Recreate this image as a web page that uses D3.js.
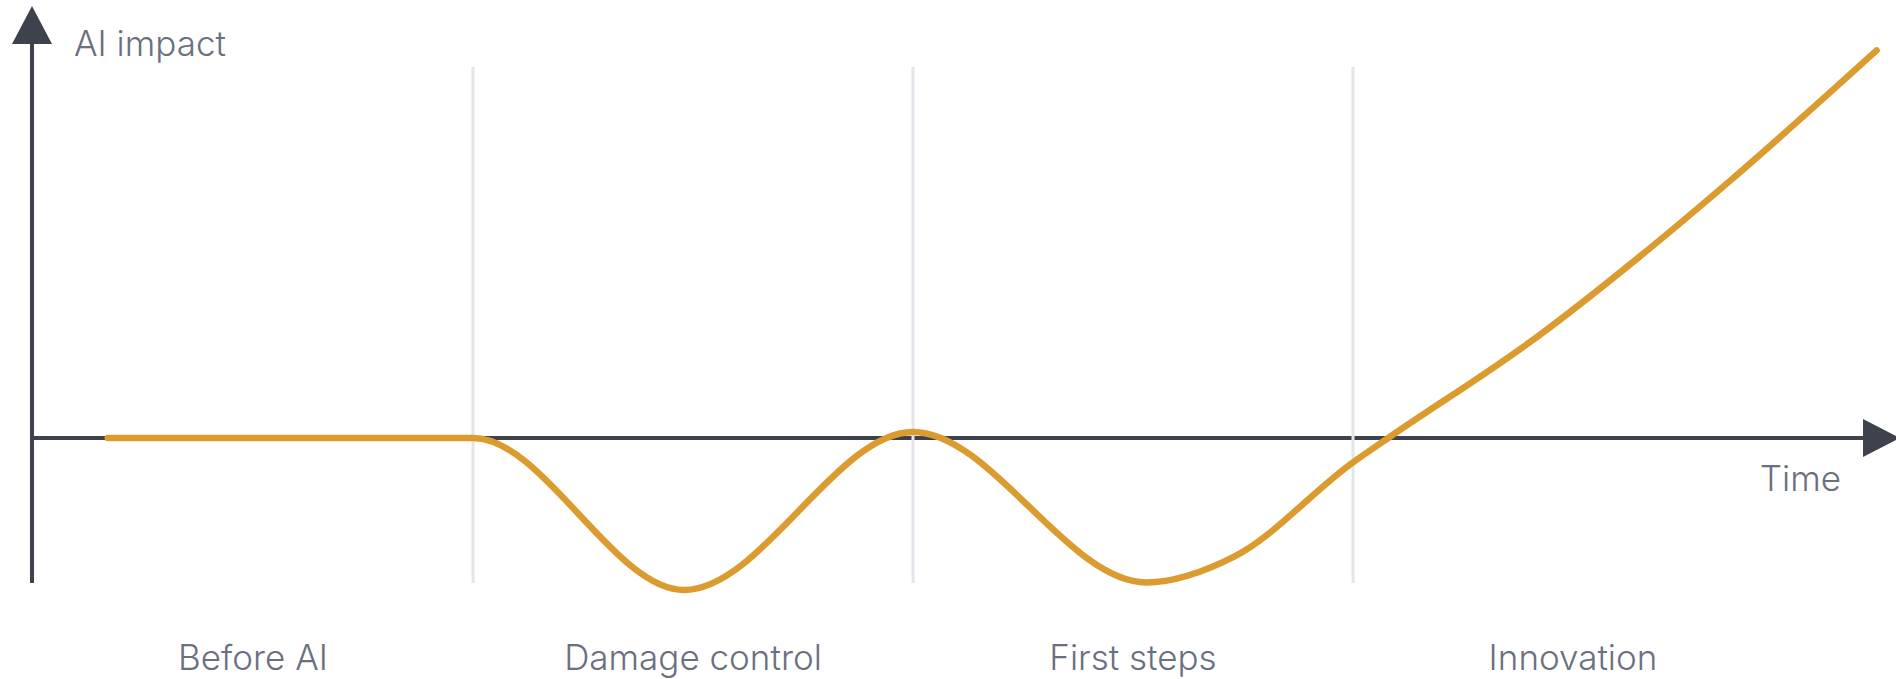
<!DOCTYPE html>
<html>
<head>
<meta charset="utf-8">
<script src="https://cdn.jsdelivr.net/npm/d3@7"></script>
<style>
  html, body { margin: 0; padding: 0; background: #fff; }
  svg { display: block; }
  text { font-family: "Inter", "Noto Sans", sans-serif; font-weight: 300; fill: #6b7080; }
</style>
</head>
<body>
<div id="chart"></div>
<script>
PHASES = ["Before AI", "Damage control", "First steps", "Innovation"];
BOUNDARIES = [1, 2, 3];

// time in phase units, impact in arbitrary units (0 = baseline)
TIME = [0.17, 1, 1.48, 2, 2.53, 2.73, 3, 3.08, 3.43, 3.65, 3.86, 4.19];
IMPACT = [0, 0, -1, 0.04, -0.95, -0.78, -0.16, 0, 0.69, 1.19, 1.7, 2.55];

const Y_LABEL = "AI impact";
const X_LABEL = "Time";

const WIDTH = 1896;
const HEIGHT = 679;
const AXIS_COLOR = "#3e424d";
const GRID_COLOR = "#e3e5ec";
const LINE_COLOR = "#dc9b2e";

const x = d3.scaleLinear()
    .domain([0, 4])
    .range([33, 1793]);

const y = d3.scaleLinear()
    .domain([-1, 3])
    .range([590, -18]);

const originX = x(0) - 1;
const originY = y(0);

const svg = d3.select("#chart").append("svg")
    .attr("width", WIDTH)
    .attr("height", HEIGHT);

// axes
svg.append("line")
    .attr("x1", originX).attr("x2", 1864)
    .attr("y1", originY).attr("y2", originY)
    .attr("stroke", AXIS_COLOR)
    .attr("stroke-width", 4);

svg.append("line")
    .attr("x1", originX).attr("x2", originX)
    .attr("y1", 40).attr("y2", 583)
    .attr("stroke", AXIS_COLOR)
    .attr("stroke-width", 4);

// arrow heads
svg.append("path")
    .attr("d", `M${originX},6 L${originX + 20},44 L${originX - 20},44 Z`)
    .attr("fill", AXIS_COLOR);

svg.append("path")
    .attr("d", `M1863,${originY - 19} L1900,${originY} L1863,${originY + 19} Z`)
    .attr("fill", AXIS_COLOR);

// phase separators
svg.append("g")
  .selectAll("line")
  .data(BOUNDARIES)
  .enter().append("line")
    .attr("x1", d => x(d)).attr("x2", d => x(d))
    .attr("y1", 67).attr("y2", 583)
    .attr("stroke", GRID_COLOR)
    .attr("stroke-width", 3);

// curve
const points = TIME.map((t, i) => ({ t: t, v: IMPACT[i] }));

const line = d3.line()
    .x(d => x(d.t))
    .y(d => y(d.v))
    .curve(d3.curveMonotoneX);

svg.append("path")
    .datum(points)
    .attr("d", line)
    .attr("fill", "none")
    .attr("stroke", LINE_COLOR)
    .attr("stroke-width", 6.5)
    .attr("stroke-linecap", "round")
    .attr("stroke-linejoin", "round");

// labels
svg.append("g")
  .selectAll("text")
  .data(PHASES)
  .enter().append("text")
    .attr("x", (d, i) => x(i + 0.5))
    .attr("y", 670)
    .attr("text-anchor", "middle")
    .attr("font-size", 35)
    .text(d => d);

svg.append("text")
    .attr("x", 74)
    .attr("y", 56)
    .attr("font-size", 35)
    .text(Y_LABEL);

svg.append("text")
    .attr("x", 1841)
    .attr("y", 491)
    .attr("text-anchor", "end")
    .attr("font-size", 35)
    .text(X_LABEL);
</script>
</body>
</html>
